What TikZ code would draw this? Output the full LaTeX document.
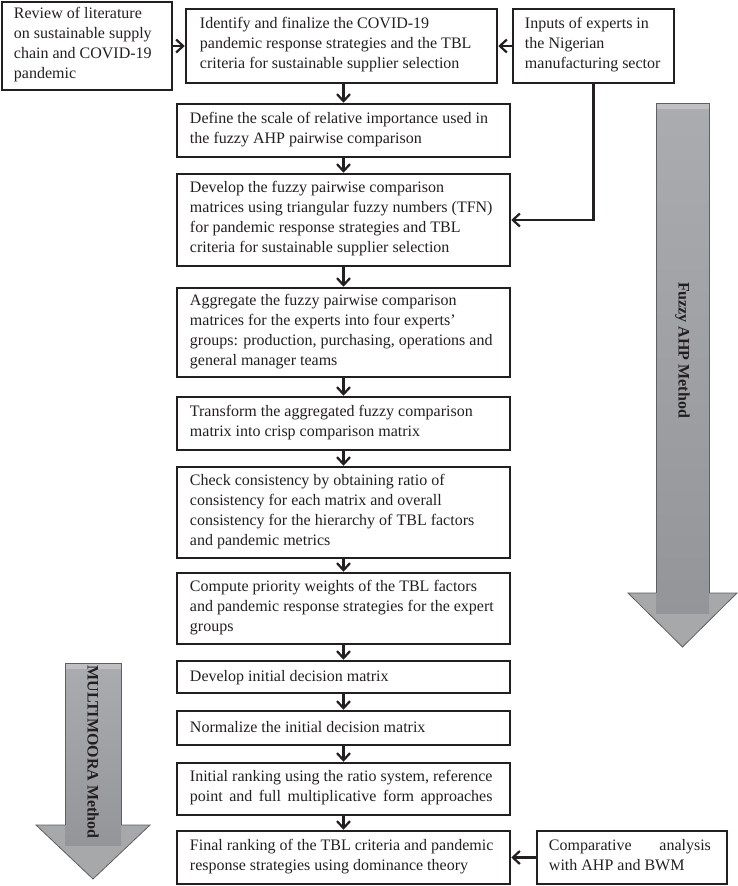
\documentclass[tikz,border=0pt]{standalone}
\usepackage{fontspec}
\setmainfont{Liberation Serif}
\usetikzlibrary{arrows.meta}
\definecolor{ink}{HTML}{231F20}
\definecolor{shaftTop}{HTML}{ABACAF}
\definecolor{shaftBot}{HTML}{949598}
\definecolor{headFill}{HTML}{A7A8AA}
\definecolor{edgeGray}{HTML}{5E5F61}
\newcommand\MyStretch[2]{\setbox0\hbox{#1}\makebox[\wd0][s]{#2}}
\begin{document}
\begin{tikzpicture}[x=1pt,y=-1pt,
  boxframe/.style={draw=ink, line width=2.5pt, inner sep=0pt},
  boxlabel/.style={text=ink, align=left, anchor=west, inner sep=0pt,
    font=\fontsize{16}{20}\selectfont,
    execute at begin node=\strut, execute at end node=\strut},
  link/.style={draw=ink, line width=2.2pt, -{Straight Barb[length=7pt,width=13pt]}},
  methodlabel/.style={font=\bfseries\fontsize{16}{20}\selectfont, text=ink, rotate=-90},
  shaftline/.style={draw=edgeGray, line width=0.8pt}]
\useasboundingbox (0,0) rectangle (738,886);

% ---- gray method arrows ----
\filldraw[fill=headFill, shaftline] (628,593) -- (737,593) -- (682.5,647) -- cycle;
\shade[top color=shaftTop, bottom color=shaftBot] (656,103) rectangle (709,613);
\fill[white, opacity=0.25] (656,103) rectangle (709,109);
\draw[shaftline] (656,593) -- (656,103) -- (709,103) -- (709,593);
\node[methodlabel] (fuzzylbl) at (682.5,350) {Fuzzy AHP Method};

\filldraw[fill=headFill, shaftline] (36,825) -- (150,825) -- (93,879) -- cycle;
\shade[top color=shaftTop, bottom color=shaftBot] (65,663) rectangle (121,845);
\fill[white, opacity=0.25] (65,663) rectangle (121,669);
\draw[shaftline] (65,825) -- (65,663) -- (121,663) -- (121,825);
\node[methodlabel] (multilbl) at (93,752) {MULTIMOORA Method};

% ---- box frames ----
\node[boxframe, minimum width=170pt, minimum height=88pt] (rev) at (87,46) {};
\node[boxframe, minimum width=311pt, minimum height=74pt] (b1) at (341.5,46) {};
\node[boxframe, minimum width=161pt, minimum height=74pt] (inp) at (593.5,46) {};
\node[boxframe, minimum width=333pt, minimum height=53pt] (b2) at (343.5,130.5) {};
\node[boxframe, minimum width=333pt, minimum height=92pt] (b3) at (343.5,220) {};
\node[boxframe, minimum width=333pt, minimum height=89pt] (b4) at (343.5,332.5) {};
\node[boxframe, minimum width=333pt, minimum height=53pt] (b5) at (343.5,423.5) {};
\node[boxframe, minimum width=333pt, minimum height=91pt] (b6) at (343.5,512.5) {};
\node[boxframe, minimum width=333pt, minimum height=71pt] (b7) at (343.5,608.5) {};
\node[boxframe, minimum width=333pt, minimum height=32pt] (b8) at (343.5,677) {};
\node[boxframe, minimum width=333pt, minimum height=34pt] (b9) at (343.5,728) {};
\node[boxframe, minimum width=333pt, minimum height=52pt] (b10) at (343.5,789) {};
\node[boxframe, minimum width=333pt, minimum height=53pt] (b11) at (343.5,857.5) {};
\node[boxframe, minimum width=190pt, minimum height=53pt] (cmp) at (632,857.5) {};

% ---- box texts ----
\node[boxlabel] (revt) at ([xshift=13pt]rev.west)
  {Review of literature\\on sustainable supply\\chain and COVID-19\\pandemic};
\node[boxlabel] (b1t) at ([xshift=15pt]b1.west)
  {Identify and finalize the COVID-19\\pandemic response strategies and the TBL\\criteria for sustainable supplier selection};
\node[boxlabel] (inpt) at ([xshift=13pt]inp.west)
  {Inputs of experts in\\the Nigerian\\manufacturing sector};
\node[boxlabel] (b2t) at ([xshift=14pt]b2.west)
  {Define the scale of relative importance used in\\the fuzzy AHP pairwise comparison};
\node[boxlabel] (b3t) at ([xshift=14pt]b3.west)
  {Develop the fuzzy pairwise comparison\\matrices using triangular fuzzy numbers (TFN)\\for pandemic response strategies and TBL\\criteria for sustainable supplier selection};
\node[boxlabel] (b4t) at ([xshift=14pt]b4.west)
  {Aggregate the fuzzy pairwise comparison\\matrices for the experts into four experts’\\groups: production, purchasing, operations and\\general manager teams};
\node[boxlabel] (b5t) at ([xshift=14pt]b5.west)
  {Transform the aggregated fuzzy comparison\\matrix into crisp comparison matrix};
\node[boxlabel] (b6t) at ([xshift=14pt]b6.west)
  {Check consistency by obtaining ratio of\\consistency for each matrix and overall\\consistency for the hierarchy of TBL factors\\and pandemic metrics};
\node[boxlabel] (b7t) at ([xshift=14pt]b7.west)
  {Compute priority weights of the TBL factors\\and pandemic response strategies for the expert\\groups};
\node[boxlabel] (b8t) at ([xshift=14pt]b8.west)
  {Develop initial decision matrix};
\node[boxlabel] (b9t) at ([xshift=14pt]b9.west)
  {Normalize the initial decision matrix};
\node[boxlabel] (b10t) at ([xshift=14pt]b10.west)
  {Initial ranking using the ratio system, reference\\\MyStretch{Initial ranking using the ratio system, reference}{point and full multiplicative form approaches}};
\node[boxlabel] (b11t) at ([xshift=14pt]b11.west)
  {Final ranking of the TBL criteria and pandemic\\response strategies using dominance theory};
\node[boxlabel] (cmpt) at ([xshift=13pt]cmp.west)
  {\makebox[162pt][s]{Comparative analysis}\\with AHP and BWM};

% ---- connectors ----
\draw[link] (rev.east) -- (b1.west);
\draw[link] (inp.west) -- (b1.east);
\draw[link] (inp.south) |- (b3.east);
\draw[link] (b1.south -| b2.north) -- (b2.north);
\draw[link] (b2) -- (b3);
\draw[link] (b3) -- (b4);
\draw[link] (b4) -- (b5);
\draw[link] (b5) -- (b6);
\draw[link] (b6) -- (b7);
\draw[link] (b7) -- (b8);
\draw[link] (b8) -- (b9);
\draw[link] (b9) -- (b10);
\draw[link] (b10) -- (b11);
\draw[link] (cmp.west) -- (b11.east);
\end{tikzpicture}
\end{document}
